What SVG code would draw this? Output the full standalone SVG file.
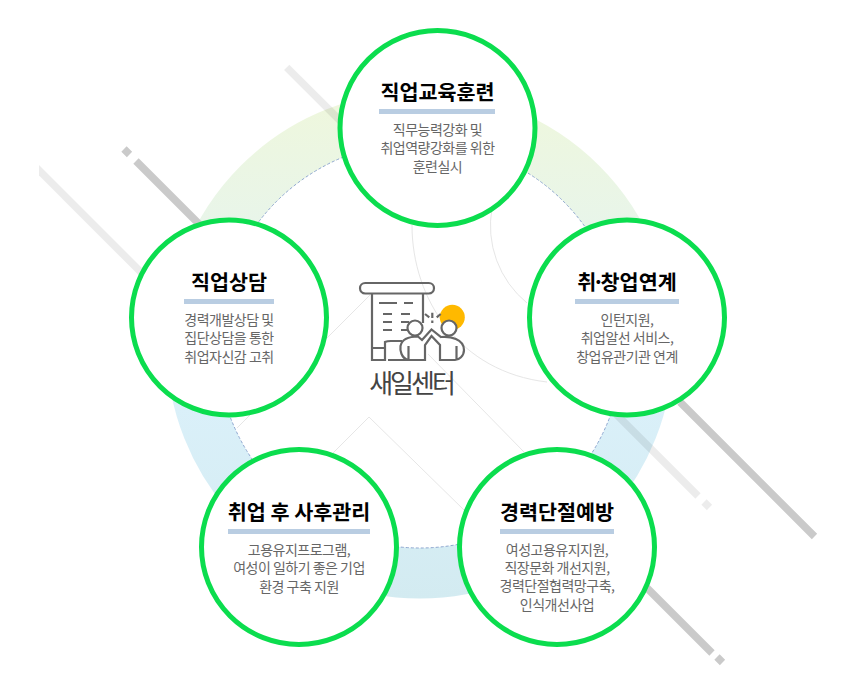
<svg xmlns="http://www.w3.org/2000/svg" width="868" height="685" viewBox="0 0 868 685">
<style>
.c{fill:#fff;stroke:#0bdd4e;stroke-width:5}
.t{font-family:"Noto Sans CJK KR","Noto Sans",sans-serif;font-size:20.7px;font-weight:700;fill:#000;text-anchor:middle}
.d{font-family:"Noto Sans CJK KR","Noto Sans",sans-serif;font-size:14px;fill:#666;text-anchor:middle;letter-spacing:-.5px}
.b{fill:#b9cde2}
.dk{stroke:#cacaca;stroke-width:7.500;fill:none}
.lt{stroke:#000;stroke-opacity:.075;stroke-width:7.500;fill:none}
.th{stroke:#e6e6e6;stroke-width:1;fill:none}
.i{fill:none;stroke:#666;stroke-width:2.200}
.w{fill:#fff;stroke:#666;stroke-width:2.200}
</style>
<defs>
<linearGradient id="ring" gradientUnits="userSpaceOnUse" x1="0" y1="92" x2="0" y2="600">
<stop offset="0" stop-color="#eff7dc"/><stop offset=".27" stop-color="#e8f5ea"/><stop offset=".62" stop-color="#daf0f9"/><stop offset="1" stop-color="#d3ebf1"/>
</linearGradient>
</defs>
<rect width="868" height="685" fill="#fff"/>
<g id="background">
<circle cx="420" cy="345" r="228" fill="none" stroke="url(#ring)" stroke-width="51"/>
<circle cx="420" cy="345" r="203" fill="#fff" stroke="#8fa7d0" stroke-width="1" stroke-dasharray="3 2"/>
<path class="dk" d="M136 161L205 230M680 402L814.500 536.500M640 581L712 653M124 149L129.500 154.500M717 657L722.500 662.500"/>
<path class="lt" d="M286.700 67.300L345 125.500M616 414L698 496M704 502L709.500 507.500"/>
<polygon points="39,165 39,175.600 150,286.600 150,276" fill="#000" fill-opacity=".075"/>
<path class="th" d="M237 428L370 295M428 354L524 452M333 453L369 417L465 511M492 208A100 100 0 0 0 527 303M412 225C412 300 460 372 547 382"/>
</g>
<g id="center">
<circle cx="452.300" cy="317.300" r="12.500" fill="#ffb900"/>
<rect class="i" x="360" y="283" width="74" height="10.500" rx="5.200"/>
<path class="i" d="M372 293V360H385V342Q387 341 391 341H402M372 348H385M388 360H408M423 293V323M379 303H397M404 303H413M383 314H392M401 314H410M383 322H392M401 322H409M383 330H392M401 330H409"/>
<circle class="w" cx="415" cy="328" r="7.500"/>
<circle class="w" cx="449" cy="328" r="7.500"/>
<path class="i" d="M408 360C401 358 400 350 400.500 346C402 339 409 336.500 418 336.500L422 340L431.500 329.500L441 337C450 336 464 339 464 350C464 356 459 360 455 360H440V345L431.500 336L425 345V360H408M408.500 346V360M456.500 346V360"/>
<path class="i" d="M432.300 312.700V318M432.300 320.500V323M425 314L429.300 317.300M440.700 314L436.700 317.300"/>
<text x="411" y="393" font-family="Noto Sans CJK KR,Noto Sans,sans-serif" font-size="26" fill="#444" text-anchor="middle" letter-spacing="-3">새일센터</text>
</g>
<g id="node-top">
<circle class="c" cx="437.500" cy="128" r="97.500"/>
<text class="t" x="437.500" y="100">직업교육훈련</text>
<rect class="b" x="379" y="109" width="116" height="5"/>
<text class="d" x="437.500" y="135">직무능력강화 및</text>
<text class="d" x="437.500" y="153">취업역량강화를 위한</text>
<text class="d" x="437.500" y="172">훈련실시</text>
</g>
<g id="node-left">
<circle class="c" cx="229" cy="317.500" r="97.500"/>
<text class="t" x="229" y="290">직업상담</text>
<rect class="b" x="184" y="299" width="90" height="5"/>
<text class="d" x="229" y="325">경력개발상담 및</text>
<text class="d" x="229" y="343">집단상담을 통한</text>
<text class="d" x="229" y="362">취업자신감 고취</text>
</g>
<g id="node-right">
<circle class="c" cx="627" cy="317.500" r="97.500"/>
<text class="t" x="627" y="290"><tspan letter-spacing="-4">취·</tspan>창업연계</text>
<rect class="b" x="575" y="299" width="104" height="5"/>
<text class="d" x="627" y="325">인턴지원,</text>
<text class="d" x="627" y="343">취업알선 서비스,</text>
<text class="d" x="627" y="362">창업유관기관 연계</text>
</g>
<g id="node-bottom-left">
<circle class="c" cx="299" cy="547" r="97.500"/>
<text class="t" x="299" y="520">취업 후 사후관리</text>
<rect class="b" x="228" y="529" width="142" height="5"/>
<text class="d" x="299" y="555">고용유지프로그램,</text>
<text class="d" x="299" y="573">여성이 일하기 좋은 기업</text>
<text class="d" x="299" y="592">환경 구축 지원</text>
</g>
<g id="node-bottom-right">
<circle class="c" cx="557" cy="547" r="97.500"/>
<text class="t" x="557" y="520">경력단절예방</text>
<rect class="b" x="500" y="529" width="114" height="5"/>
<text class="d" x="557" y="555">여성고용유지지원,</text>
<text class="d" x="557" y="573">직장문화 개선지원,</text>
<text class="d" x="557" y="591">경력단절협력망구축,</text>
<text class="d" x="557" y="610">인식개선사업</text>
</g>
</svg>
